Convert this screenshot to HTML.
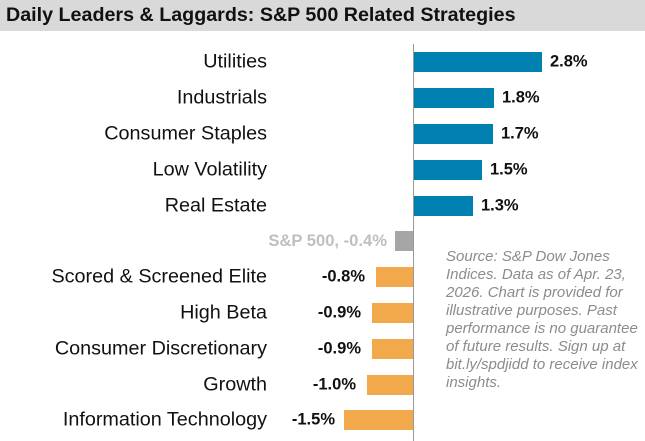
<!DOCTYPE html><html><head><style>
body{margin:0;width:645px;height:441px;background:#fff;position:relative;overflow:hidden;font-family:"Liberation Sans",Arial,sans-serif}
.t{position:absolute;left:0;top:0;width:645px;height:31px;background:#d9d9d9;font-weight:bold;font-size:19.7px;line-height:31px;padding-left:6px;box-sizing:border-box;color:#111}
.ax{position:absolute;left:413px;top:44px;width:1px;height:397px;background:#999}
.l{position:absolute;right:378px;font-size:19.8px;color:#111;white-space:nowrap;transform:translateY(-50%)}
.b{position:absolute;height:20px;transform:translateY(-50%)}
.v{position:absolute;font-size:16.5px;font-weight:bold;color:#111;transform:translateY(-50%)}
.n{position:absolute;left:446px;top:248px;font-size:15px;font-style:italic;color:#8c8c8c;line-height:18px;width:196px}
</style></head><body>
<div class="t">Daily Leaders &amp; Laggards: S&amp;P 500 Related Strategies</div>
<div class="ax"></div>

<div class="l" style="top:62px">Utilities</div><div class="b" style="top:62px;left:414px;width:128px;background:#0080b0"></div><div class="v" style="top:62px;left:550px">2.8%</div>
<div class="l" style="top:98px">Industrials</div><div class="b" style="top:98px;left:414px;width:80px;background:#0080b0"></div><div class="v" style="top:98px;left:502px">1.8%</div>
<div class="l" style="top:134px">Consumer Staples</div><div class="b" style="top:134px;left:414px;width:79px;background:#0080b0"></div><div class="v" style="top:134px;left:501px">1.7%</div>
<div class="l" style="top:170px">Low Volatility</div><div class="b" style="top:170px;left:414px;width:68px;background:#0080b0"></div><div class="v" style="top:170px;left:490px">1.5%</div>
<div class="l" style="top:206px">Real Estate</div><div class="b" style="top:206px;left:414px;width:59px;background:#0080b0"></div><div class="v" style="top:206px;left:481px">1.3%</div>

<div class="l" style="top:241px;right:258px;font-size:16.6px;font-weight:bold;color:#bfbfbf">S&amp;P 500, -0.4%</div><div class="b" style="top:241px;left:395px;width:18px;background:#a6a6a6"></div>

<div class="l" style="top:277px">Scored &amp; Screened Elite</div><div class="b" style="top:277px;left:376px;width:37px;background:#f2a94b"></div><div class="v" style="top:277px;right:280px">-0.8%</div>
<div class="l" style="top:313px">High Beta</div><div class="b" style="top:313px;left:372px;width:41px;background:#f2a94b"></div><div class="v" style="top:313px;right:284px">-0.9%</div>
<div class="l" style="top:349px">Consumer Discretionary</div><div class="b" style="top:349px;left:372px;width:41px;background:#f2a94b"></div><div class="v" style="top:349px;right:284px">-0.9%</div>
<div class="l" style="top:385px">Growth</div><div class="b" style="top:385px;left:367px;width:46px;background:#f2a94b"></div><div class="v" style="top:385px;right:289px">-1.0%</div>
<div class="l" style="top:420px">Information Technology</div><div class="b" style="top:420px;left:344px;width:69px;background:#f2a94b"></div><div class="v" style="top:420px;right:310px">-1.5%</div>

<div class="n">Source: S&amp;P Dow Jones Indices. Data as of Apr. 23, 2026. Chart is provided for illustrative purposes. Past performance is no guarantee of future results. Sign up at bit.ly/spdjidd to receive index insights.</div>
</body></html>
